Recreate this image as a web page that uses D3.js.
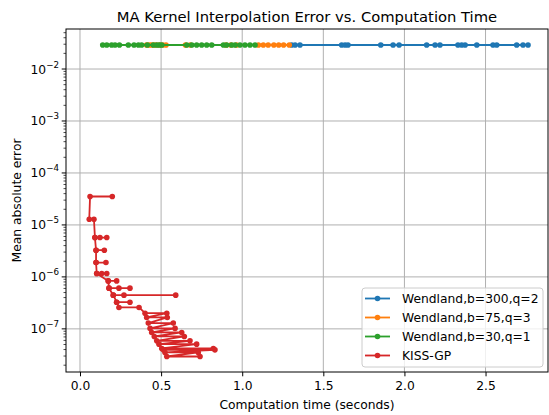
<!DOCTYPE html>
<html>
<head>
<meta charset="utf-8">
<script src="https://cdn.jsdelivr.net/npm/d3@7"></script>
<style>
  body { margin: 0; background: #fff; }
  svg { display: block; font-family: "DejaVu Sans", sans-serif; }
</style>
</head>
<body>
<svg id="chart" width="549" height="415"></svg>
<script>
// Wendland kernels: error barely moves with bandwidth, only time does
const wend300Time = [1.305, 1.326, 1.356, 1.613, 1.634, 1.652, 1.854, 1.930, 1.967, 2.137, 2.189,
                     2.219, 2.330, 2.353, 2.374, 2.446, 2.546, 2.569, 2.692, 2.731, 2.762];
const wend300Err  = [0.0290, 0.0290, 0.0290, 0.0290, 0.0290, 0.0290, 0.0290, 0.0290, 0.0290, 0.0290, 0.0290,
                     0.0290, 0.0290, 0.0290, 0.0290, 0.0290, 0.0290, 0.0290, 0.0290, 0.0290, 0.0290];

const wend75Time = [0.410, 0.425, 0.440, 0.455, 0.470, 0.490, 0.510, 0.530, 0.650, 0.680,
                    0.900, 0.930, 0.965, 1.100, 1.130, 1.160, 1.195, 1.225, 1.255, 1.290];
const wend75Err  = [0.0290, 0.0290, 0.0290, 0.0290, 0.0290, 0.0290, 0.0290, 0.0290, 0.0290, 0.0290,
                    0.0290, 0.0290, 0.0290, 0.0290, 0.0290, 0.0290, 0.0290, 0.0290, 0.0290, 0.0290];

const wend30Time = [0.140, 0.165, 0.195, 0.216, 0.243, 0.298, 0.333, 0.360, 0.380, 0.415, 0.452, 0.473, 0.489, 0.504,
                    0.658, 0.689, 0.719, 0.750, 0.781, 0.812, 0.884, 0.904, 0.935, 0.956, 0.986, 1.017, 1.048, 1.079];
const wend30Err  = [0.0290, 0.0290, 0.0290, 0.0290, 0.0290, 0.0290, 0.0290, 0.0290, 0.0290, 0.0290, 0.0290, 0.0290, 0.0290, 0.0290,
                    0.0290, 0.0290, 0.0290, 0.0290, 0.0290, 0.0290, 0.0290, 0.0290, 0.0290, 0.0290, 0.0290, 0.0290, 0.0290, 0.0290];

// KISS-GP runs, in the order they were logged
const kissTime = [0.199, 0.062, 0.057, 0.086,
                  0.092, 0.123, 0.165, 0.092,
                  0.099, 0.150, 0.099,
                  0.099, 0.160, 0.099,
                  0.103, 0.134, 0.165, 0.103,
                  0.174, 0.226, 0.174,
                  0.179, 0.240, 0.308, 0.179,
                  0.205, 0.271, 0.590, 0.205,
                  0.226, 0.308, 0.226,
                  0.240, 0.364,
                  0.401, 0.535, 0.411, 0.538, 0.421, 0.575, 0.432, 0.586, 0.442, 0.627, 0.458, 0.643,
                  0.473, 0.678, 0.487, 0.719, 0.504, 0.822, 0.514, 0.832, 0.524, 0.729, 0.535, 0.740];
const kissErr  = [3.52e-5, 3.52e-5, 1.29e-5, 1.29e-5,
                  5.72e-6, 5.72e-6, 5.72e-6, 5.72e-6,
                  3.26e-6, 3.26e-6, 3.26e-6,
                  1.89e-6, 1.89e-6, 1.89e-6,
                  1.16e-6, 1.16e-6, 1.16e-6, 1.16e-6,
                  8.37e-7, 8.37e-7, 8.37e-7,
                  6.07e-7, 6.07e-7, 6.07e-7, 6.07e-7,
                  4.45e-7, 4.45e-7, 4.45e-7, 4.45e-7,
                  3.26e-7, 3.26e-7, 3.26e-7,
                  2.58e-7, 2.58e-7,
                  2.00e-7, 2.00e-7, 1.66e-7, 1.66e-7, 1.29e-7, 1.29e-7, 1.02e-7, 1.02e-7, 8.53e-8, 8.53e-8, 7.14e-8, 7.14e-8,
                  5.88e-8, 5.88e-8, 5.08e-8, 5.08e-8, 4.20e-8, 4.20e-8, 3.95e-8, 3.95e-8, 3.52e-8, 3.52e-8, 2.94e-8, 2.94e-8];

const seriesNames  = ['Wendland,b=300,q=2', 'Wendland,b=75,q=3', 'Wendland,b=30,q=1', 'KISS-GP'];
const seriesColors = ['#1f77b4', '#ff7f0e', '#2ca02c', '#d62728'];
const xTicks = [0, 0.5, 1.0, 1.5, 2.0, 2.5];
const yExponents = [-7, -6, -5, -4, -3, -2];

const series = [
  {time: wend300Time, err: wend300Err},
  {time: wend75Time, err: wend75Err},
  {time: wend30Time, err: wend30Err},
  {time: kissTime, err: kissErr}
].map((s, i) => ({
  name: seriesNames[i],
  color: seriesColors[i],
  points: s.time.map((t, j) => ({t: t, e: s.err[j]}))
}));

const margin = {top: 29, right: 1, bottom: 43, left: 66},
      width = 549 - margin.left - margin.right,
      height = 415 - margin.top - margin.bottom;

const fontSize = 12.3;

const x = d3.scaleLinear().domain([-0.0863, 2.885]).range([0, width]);
const y = d3.scaleLog().domain([Math.pow(10, -7.83), Math.pow(10, -1.23)]).range([height, 0]);

const svg = d3.select('#chart');
const g = svg.append('g').attr('transform', 'translate(' + margin.left + ',' + margin.top + ')');

g.append('defs').append('clipPath').attr('id', 'plot-clip')
  .append('rect').attr('width', width).attr('height', height);

// grid on major ticks
g.append('g').selectAll('line').data(xTicks).join('line')
  .attr('x1', d => x(d)).attr('x2', d => x(d))
  .attr('y1', 0).attr('y2', height)
  .attr('stroke', '#b0b0b0').attr('stroke-width', 1);
g.append('g').selectAll('line').data(yExponents).join('line')
  .attr('x1', 0).attr('x2', width)
  .attr('y1', d => y(Math.pow(10, d))).attr('y2', d => y(Math.pow(10, d)))
  .attr('stroke', '#b0b0b0').attr('stroke-width', 1);

// series
const line = d3.line().x(d => x(d.t)).y(d => y(d.e));
const plot = g.append('g').attr('clip-path', 'url(#plot-clip)');
series.forEach(s => {
  const sg = plot.append('g');
  sg.append('path')
    .datum(s.points)
    .attr('d', line)
    .attr('fill', 'none')
    .attr('stroke', s.color)
    .attr('stroke-width', 1.8)
    .attr('stroke-linejoin', 'round');
  sg.selectAll('circle').data(s.points).join('circle')
    .attr('cx', d => x(d.t)).attr('cy', d => y(d.e))
    .attr('r', 2.8)
    .attr('fill', s.color);
});

// x axis
const xAxis = g.append('g')
  .attr('transform', 'translate(0,' + height + ')')
  .call(d3.axisBottom(x).tickValues(xTicks).tickFormat(d3.format('.1f')).tickSize(4.3).tickPadding(5));
xAxis.select('.domain').remove();
xAxis.selectAll('line').attr('stroke', '#000').attr('stroke-width', 1);
xAxis.selectAll('text').attr('font-size', fontSize).attr('fill', '#000').attr('font-family', '"DejaVu Sans", sans-serif');

// y axis: majors with superscript labels, minors in between
const minorVals = [];
for (let k = -8; k <= -2; k++) {
  for (let m = 2; m <= 9; m++) {
    const v = m * Math.pow(10, k);
    if (v >= y.domain()[0] && v <= y.domain()[1]) minorVals.push(v);
  }
}
const yAxis = g.append('g');
yAxis.selectAll('line.minor').data(minorVals).join('line')
  .attr('class', 'minor')
  .attr('x1', -2.5).attr('x2', 0)
  .attr('y1', d => y(d)).attr('y2', d => y(d))
  .attr('stroke', '#000').attr('stroke-width', 0.7);
yAxis.selectAll('line.major').data(yExponents).join('line')
  .attr('class', 'major')
  .attr('x1', -4.3).attr('x2', 0)
  .attr('y1', d => y(Math.pow(10, d))).attr('y2', d => y(Math.pow(10, d)))
  .attr('stroke', '#000').attr('stroke-width', 1);
const yLabels = yAxis.selectAll('text').data(yExponents).join('text')
  .attr('x', -7)
  .attr('y', d => y(Math.pow(10, d)) + 4.5)
  .attr('text-anchor', 'end')
  .attr('font-size', fontSize)
  .attr('fill', '#000');
yLabels.append('tspan').text('10');
yLabels.append('tspan').attr('dy', -6).attr('font-size', 8.7).text(d => '\u2212' + Math.abs(d));

// spines
g.append('rect')
  .attr('width', width).attr('height', height)
  .attr('fill', 'none').attr('stroke', '#000').attr('stroke-width', 1);

// labels
svg.append('text')
  .attr('x', margin.left + width / 2).attr('y', 22)
  .attr('text-anchor', 'middle').attr('font-size', 14.76)
  .text('MA Kernel Interpolation Error vs. Computation Time');
svg.append('text')
  .attr('x', margin.left + width / 2).attr('y', 409)
  .attr('text-anchor', 'middle').attr('font-size', fontSize)
  .text('Computation time (seconds)');
svg.append('text')
  .attr('transform', 'translate(21,' + (margin.top + height / 2) + ') rotate(-90)')
  .attr('text-anchor', 'middle').attr('font-size', fontSize)
  .text('Mean absolute error');

// legend
const legend = svg.append('g').attr('transform', 'translate(362,288)');
legend.append('rect')
  .attr('width', 181).attr('height', 79).attr('rx', 3)
  .attr('fill', '#fff').attr('fill-opacity', 0.8)
  .attr('stroke', '#ccc').attr('stroke-width', 1);
const items = legend.selectAll('g.item').data(series).join('g')
  .attr('class', 'item')
  .attr('transform', (d, i) => 'translate(0,' + (10.5 + i * 19) + ')');
items.append('line')
  .attr('x1', 3).attr('x2', 28)
  .attr('stroke', d => d.color).attr('stroke-width', 1.8);
items.append('circle').attr('cx', 15.5).attr('r', 2.8).attr('fill', d => d.color);
items.append('text')
  .attr('x', 40).attr('y', 4.5)
  .attr('font-size', fontSize)
  .text(d => d.name);
</script>
</body>
</html>
